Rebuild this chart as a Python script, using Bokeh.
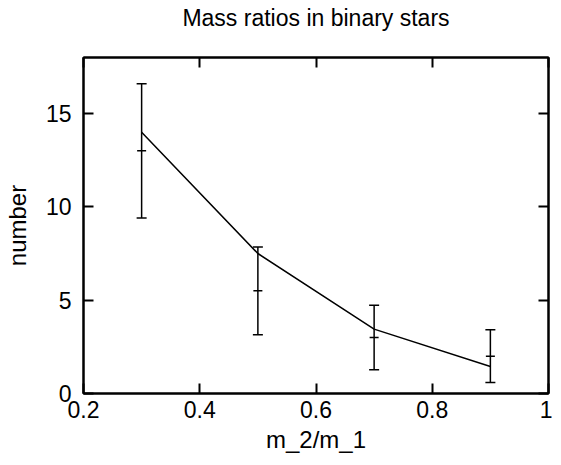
from bokeh.plotting import figure
from bokeh.models import Range1d, LinearAxis, FixedTicker, Whisker, ColumnDataSource, TeeHead
from bokeh.embed import file_html
from bokeh.resources import INLINE

# data
mass_ratio = [0.3, 0.5, 0.7, 0.9]
observed = [13.0, 5.5, 3.0, 2.0]
err_lower = [9.4, 3.15, 1.27, 0.59]
err_upper = [16.6, 7.85, 4.73, 3.41]
model = [14.0, 7.5, 3.45, 1.45]
x_ticks = [0.2, 0.4, 0.6, 0.8, 1.0]
y_ticks = [0, 5, 10, 15]
title_text = "Mass ratios in binary stars"

FONT = "Liberation Sans"

p = figure(width=552, height=460, output_backend="svg", toolbar_location=None,
           x_range=Range1d(0.2, 1.0), y_range=Range1d(0, 18),
           x_axis_label="m_2/m_1", y_axis_label="number")
p.min_border_left = 78
p.min_border_right = 4
p.min_border_top = 57
p.min_border_bottom = 67

p.xgrid.visible = False
p.ygrid.visible = False
p.outline_line_color = "black"
p.outline_line_width = 2
p.background_fill_color = "white"
p.border_fill_color = "white"

def style_axis(ax, ticks, labels=True):
    ax.ticker = FixedTicker(ticks=ticks)
    ax.major_tick_in = 10
    ax.major_tick_out = 0
    ax.minor_tick_line_color = None
    ax.axis_line_color = "black"
    ax.axis_line_width = 2
    ax.major_tick_line_width = 2
    ax.major_tick_line_color = "black"
    ax.major_label_text_font = FONT
    ax.major_label_text_font_size = "23px"
    ax.major_label_text_color = "black"
    ax.axis_label_text_font = FONT
    ax.axis_label_text_font_size = "24px"
    ax.axis_label_text_font_style = "normal"
    ax.axis_label_text_color = "black"
    if not labels:
        ax.major_label_text_font_size = "0px"
        ax.major_label_text_alpha = 0
        ax.major_label_standoff = 0

style_axis(p.xaxis[0], x_ticks)
style_axis(p.yaxis[0], y_ticks)
p.xaxis[0].major_label_standoff = 7
p.yaxis[0].major_label_standoff = 12
p.xaxis[0].axis_label_standoff = 5
p.yaxis[0].axis_label_standoff = 12

top = LinearAxis(axis_label=title_text)
style_axis(top, x_ticks, labels=False)
top.axis_label_text_font_size = "23px"
top.axis_label_standoff = 27
p.add_layout(top, "above")
right = LinearAxis()
style_axis(right, y_ticks, labels=False)
p.add_layout(right, "right")

src = ColumnDataSource(dict(x=mass_ratio, y=observed, lo=err_lower, hi=err_upper, m=model))

p.line("x", "m", source=src, line_color="black", line_width=1.5)

w = Whisker(base="x", lower="lo", upper="hi", source=src,
            line_color="black", line_width=1.5,
            upper_head=TeeHead(size=10, line_color="black", line_width=1.5),
            lower_head=TeeHead(size=10, line_color="black", line_width=1.5))
p.add_layout(w)

p.scatter("x", "y", source=src, marker="dash", size=9, line_color="black", line_width=1.5)

open("out.html", "w").write(file_html(p, INLINE))
